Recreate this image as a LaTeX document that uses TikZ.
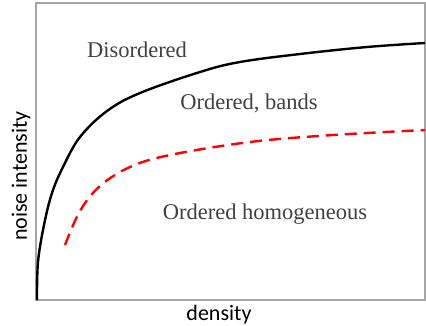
\documentclass[tikz,border=0pt]{standalone}
\usepackage{fontspec}
\setmainfont{Liberation Serif}
\setsansfont{Carlito}
\usetikzlibrary{positioning}

\begin{document}
\begin{tikzpicture}[x=1pt,y=-1pt]

\useasboundingbox (0,0) rectangle (426,325);

\draw[gray!70, line width=1.3pt] (36,3) rectangle (425,300);

% phase boundaries
\draw[line width=2.4pt] plot[smooth, tension=0.6] coordinates {(37,300) (38,262) (44,225) (52,193) (63,167) (80,137) (107,111) (140,93) (200,72) (240,62) (300,54) (367,47) (425,43)};
\draw[red, line width=2.4pt, dash pattern=on 12pt off 7pt] plot[smooth, tension=0.6] coordinates {(65,245) (80,211) (100,186) (130,167) (170,155) (250,142) (333,135) (425,130)};

\node[anchor=base, text=black!75, font=\fontsize{22.5}{24}\selectfont] (dis) at (137,57) {Disordered};
\node[anchor=base, text=black!75, font=\fontsize{22.5}{24}\selectfont] (band) at (249,109) {Ordered, bands};
\node[anchor=base, text=black!75, font=\fontsize{22.5}{24}\selectfont] (hom) at (265,219) {Ordered homogeneous};

\node[anchor=base, font=\sffamily\fontsize{22}{24}\selectfont] (xlab) at (219,320) {density};
\node[anchor=base, rotate=90, font=\sffamily\fontsize{22}{24}\selectfont] (ylab) at (27,176) {noise intensity};
\end{tikzpicture}
\end{document}
